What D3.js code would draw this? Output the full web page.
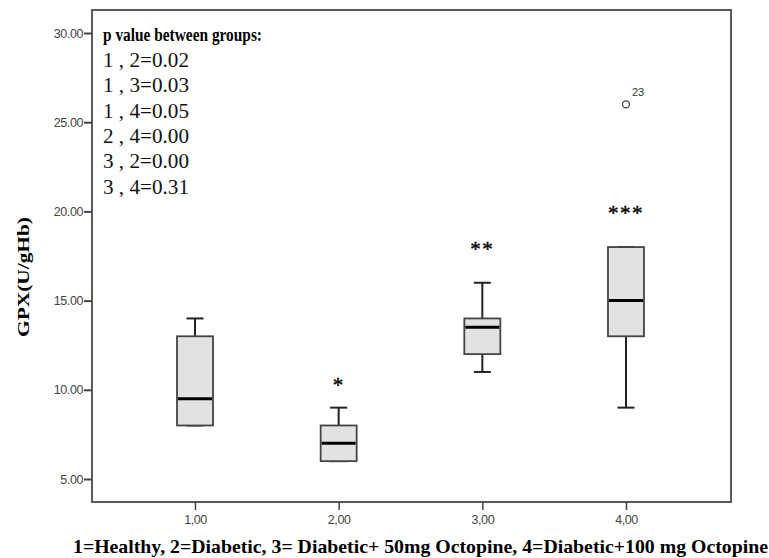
<!DOCTYPE html>
<html>
<head>
<meta charset="utf-8">
<script src="https://cdn.jsdelivr.net/npm/d3@7"></script>
<style>
  body { margin: 0; background: #fff; }
  svg { display: block; }
</style>
</head>
<body>
<svg width="769" height="558"></svg>
<script>
// group codes and box stats
const groups = [1, 2, 3, 4];
const groupLabels = ["1,00", "2,00", "3,00", "4,00"];
const whiskerLow = [8, 6, 11, 9];
const q1 = [8, 6, 12, 13];
const median = [9.5, 7, 13.5, 15];
const q3 = [13, 8, 14, 18];
const whiskerHigh = [14, 9, 16, 18];
const stars = ["", "*", "**", "***"];
const starValue = [null, 10.4, 18.0, 20.0];
const outliers = [{group: 4, value: 26, label: "23"}];
const yTicks = [5, 10, 15, 20, 25, 30];
const pLines = ["1 , 2=0.02", "1 , 3=0.03", "1 , 4=0.05", "2 , 4=0.00", "3 , 2=0.00", "3 , 4=0.31"];

const svg = d3.select("svg");
const frame = {left: 92, right: 731, top: 10, bottom: 502};

const x = d3.scaleLinear().domain([0.283, 4.731]).range([frame.left, frame.right]);
const y = d3.scaleLinear().domain([5, 30]).range([479, 33]);

const boxW = 36, capW = 17;
const sans = "Arial, 'Liberation Sans', sans-serif";
const serif = "'Times New Roman', 'Liberation Serif', serif";

// frame
svg.append("rect")
  .attr("x", frame.left).attr("y", frame.top)
  .attr("width", frame.right - frame.left).attr("height", frame.bottom - frame.top)
  .attr("fill", "none").attr("stroke", "#5a5a5a").attr("stroke-width", 2);

// y axis
const yAxis = svg.append("g")
  .attr("transform", `translate(${frame.left},0)`)
  .call(d3.axisLeft(y).tickValues(yTicks).tickSize(8).tickFormat(d3.format(".2f")));
yAxis.select(".domain").remove();
yAxis.selectAll("line").attr("stroke", "#444").attr("stroke-width", 2);
yAxis.selectAll("text")
  .attr("fill", "#444").attr("x", -9)
  .style("font-family", sans)
  .style("font-size", "12.5px").style("letter-spacing", "-0.4px");

// x axis
const xAxis = svg.append("g")
  .attr("transform", `translate(0,${frame.bottom})`)
  .call(d3.axisBottom(x).tickValues(groups).tickSize(8)
    .tickFormat((d, i) => groupLabels[i]));
xAxis.select(".domain").remove();
xAxis.selectAll("line").attr("stroke", "#444").attr("stroke-width", 1.5);
xAxis.selectAll("text")
  .attr("fill", "#444").attr("y", 13)
  .style("font-family", sans)
  .style("font-size", "12.5px").style("letter-spacing", "-0.4px");

// boxes
const data = groups.map((g, i) => ({
  g, lo: whiskerLow[i], q1: q1[i], med: median[i], q3: q3[i], hi: whiskerHigh[i],
  star: stars[i], starV: starValue[i]
}));

const box = svg.selectAll(".box").data(data).enter().append("g").attr("class", "box");

// whiskers
box.append("line")
  .attr("x1", d => x(d.g)).attr("x2", d => x(d.g))
  .attr("y1", d => y(d.hi)).attr("y2", d => y(d.q3))
  .attr("stroke", "#222").attr("stroke-width", 2);
box.append("line")
  .attr("x1", d => x(d.g)).attr("x2", d => x(d.g))
  .attr("y1", d => y(d.q1)).attr("y2", d => y(d.lo))
  .attr("stroke", "#222").attr("stroke-width", 2);
box.append("line")
  .attr("x1", d => x(d.g) - capW / 2).attr("x2", d => x(d.g) + capW / 2)
  .attr("y1", d => y(d.hi)).attr("y2", d => y(d.hi))
  .attr("stroke", "#222").attr("stroke-width", 2);
box.append("line")
  .attr("x1", d => x(d.g) - capW / 2).attr("x2", d => x(d.g) + capW / 2)
  .attr("y1", d => y(d.lo)).attr("y2", d => y(d.lo))
  .attr("stroke", "#222").attr("stroke-width", 2);

box.append("rect")
  .attr("x", d => x(d.g) - boxW / 2)
  .attr("y", d => y(d.q3))
  .attr("width", boxW)
  .attr("height", d => y(d.q1) - y(d.q3))
  .attr("fill", "#e2e2e2").attr("stroke", "#444").attr("stroke-width", 1.8);

box.append("line")
  .attr("x1", d => x(d.g) - boxW / 2 + 1).attr("x2", d => x(d.g) + boxW / 2 - 1)
  .attr("y1", d => y(d.med)).attr("y2", d => y(d.med))
  .attr("stroke", "#000").attr("stroke-width", 3);

// significance stars
box.filter(d => d.star)
  .append("text")
  .attr("x", d => x(d.g)).attr("y", d => y(d.starV) + 9)
  .attr("text-anchor", "middle")
  .style("font-family", serif)
  .style("font-size", "21px").style("letter-spacing", "1.5px")
  .attr("stroke", "#000").attr("stroke-width", 0.4)
  .text(d => d.star);

// outliers
svg.selectAll(".out").data(outliers).enter().append("circle")
  .attr("cx", d => x(d.group)).attr("cy", d => y(d.value)).attr("r", 3.5)
  .attr("fill", "none").attr("stroke", "#444").attr("stroke-width", 1.3);
svg.selectAll(".outlab").data(outliers).enter().append("text")
  .attr("x", d => x(d.group) + 6).attr("y", d => y(d.value) - 8)
  .style("font-family", sans)
  .style("font-size", "11px").attr("fill", "#333")
  .text(d => d.label);

// p value note
svg.append("text")
  .attr("x", 103).attr("y", 41)
  .attr("textLength", 159).attr("lengthAdjust", "spacingAndGlyphs")
  .style("font-family", serif)
  .style("font-size", "18px").style("font-weight", "bold")
  .text("p value between groups:");
svg.selectAll(".pline").data(pLines).enter().append("text")
  .attr("x", 103).attr("y", (d, i) => 67 + i * 25.3)
  .attr("textLength", 86).attr("lengthAdjust", "spacingAndGlyphs")
  .style("font-family", serif)
  .style("font-size", "20px").attr("fill", "#111")
  .text(d => d);

// axis titles
svg.append("text")
  .attr("transform", "translate(29,277) rotate(-90)")
  .attr("text-anchor", "middle")
  .attr("textLength", 120).attr("lengthAdjust", "spacingAndGlyphs")
  .style("font-family", serif)
  .style("font-size", "17px").style("font-weight", "bold")
  .text("GPX(U/gHb)");

svg.append("text")
  .attr("x", 73).attr("y", 553)
  .attr("textLength", 695).attr("lengthAdjust", "spacingAndGlyphs")
  .style("font-family", serif)
  .style("font-size", "19px").style("font-weight", "bold")
  .text("1=Healthy, 2=Diabetic, 3= Diabetic+ 50mg Octopine, 4=Diabetic+100 mg Octopine");
</script>
</body>
</html>
